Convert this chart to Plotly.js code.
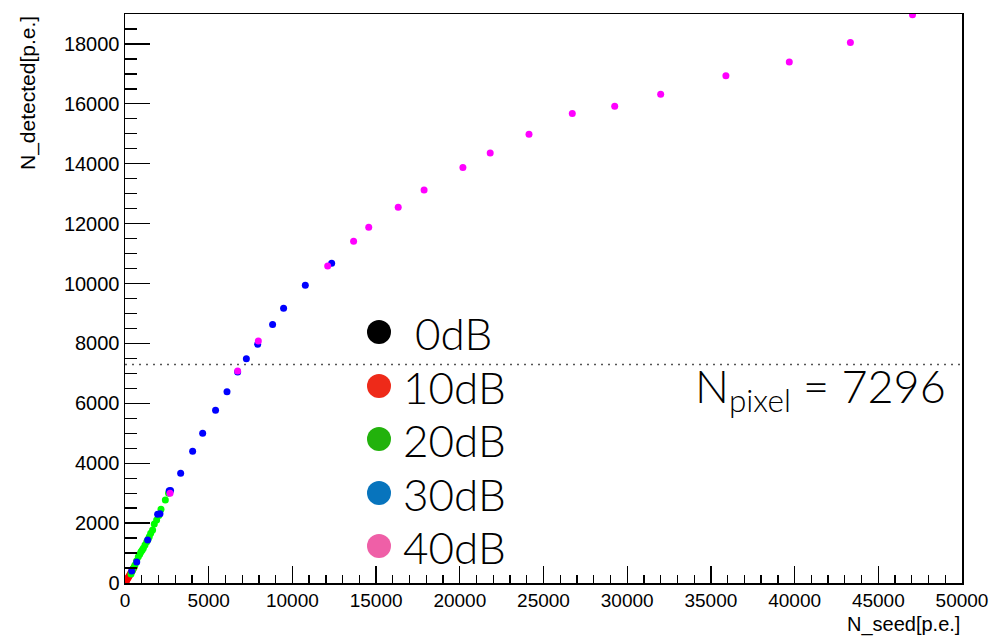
<!DOCTYPE html>
<html>
<head>
<meta charset="utf-8">
<script src="https://cdn.plot.ly/plotly-3.0.1.min.js"></script>
<style>html,body{margin:0;padding:0;background:#fff;}#chart{width:999px;height:636px;}</style>
</head>
<body>
<div id="chart"></div>
<script>
// 0dB (hidden under the 10dB points near the origin)
const x0dB = [5, 12, 20, 30, 42];
const y0dB = [5, 12, 20, 29, 41];
// 10dB
const x10dB = [30, 60, 100, 140, 180, 230, 280, 330, 380, 440, 500, 560];
const y10dB = [30, 58, 96, 135, 172, 220, 268, 318, 366, 425, 482, 540];
// 20dB
const x20dB = [358, 430, 500, 597, 697, 795, 880, 956, 1030, 1095, 1195, 1300, 1380, 1450, 1535, 1650, 1750, 1890, 2020, 2150, 2410, 2600];
const y20dB = [300, 400, 491, 601, 745, 878, 960, 1045, 1100, 1159, 1269, 1380, 1460, 1547, 1660, 1770, 1970, 2104, 2250, 2461, 2772, 3000];
// 30dB
const x30dB = [400, 700, 1355, 1950, 2090, 2640, 2720, 3325, 4040, 4640, 5410, 6093, 6730, 7250, 7925, 8817, 9474, 10771, 12346];
const y30dB = [400, 700, 1436, 2294, 2315, 3080, 3090, 3664, 4399, 5000, 5768, 6390, 7048, 7492, 7972, 8630, 9175, 9943, 10678];
// 40dB
const x40dB = [2690, 6730, 7965, 12108, 13656, 14560, 16320, 17867, 20185, 21816, 24134, 26720, 29253, 32000, 35896, 39683, 43333, 47043];
const y40dB = [2996, 7081, 8083, 10588, 11413, 11880, 12548, 13126, 13871, 14362, 14986, 15675, 15922, 16323, 16934, 17401, 18046, 18971];

const legendLabels = ['0dB', '10dB', '20dB', '30dB', '40dB'];
const legendColors = ['#000000', '#ee2a19', '#22b20c', '#0774bd', '#ef5fa7'];
const nPixel = 7296;

const font = 'Liberation Sans, Arial, sans-serif';
const bigFont = 'Lato, Liberation Sans, sans-serif';
function series(x, y, color) {
  return {type: 'scatter', mode: 'markers', x: x, y: y, showlegend: false,
    marker: {color: color, size: 7, line: {width: 0}}, hoverinfo: 'x+y'};
}
const data = [
  series(x0dB, y0dB, '#000000'),
  series(x10dB, y10dB, '#ff0000'),
  series(x20dB, y20dB, '#00ff00'),
  series(x30dB, y30dB, '#0000ff'),
  series(x40dB, y40dB, '#ff00ff')
];

const W = 999, H = 636, L = 125, R = 37, T = 14, B = 53;
const pw = W - L - R, ph = H - T - B;
const px = v => (v - L) / pw;
const py = v => (H - B - v) / ph;

const shapes = [{
  type: 'line', xref: 'paper', x0: 0, x1: 1, yref: 'y', y0: nPixel, y1: nPixel,
  line: {color: '#555', width: 1.5, dash: '2px,5px'}
}];
const annotations = [];
const legendY = [332, 386, 439, 493, 546];
const legendTextX = [413, 401, 401, 401, 401];
legendLabels.forEach((lab, i) => {
  shapes.push({type: 'circle', xref: 'paper', yref: 'paper', xsizemode: 'pixel', ysizemode: 'pixel',
    xanchor: px(379), yanchor: py(legendY[i]), x0: -12, x1: 12, y0: -12, y1: 12,
    fillcolor: legendColors[i], line: {width: 0}});
  annotations.push({xref: 'paper', yref: 'paper', x: px(legendTextX[i]), y: py(legendY[i] + 1),
    xanchor: 'left', yanchor: 'middle', showarrow: false, text: lab,
    font: {family: bigFont, size: 44, color: '#000', weight: 300}});
});
annotations.push({xref: 'paper', yref: 'paper', x: px(948), y: py(389), xanchor: 'right', yanchor: 'middle',
  showarrow: false, text: 'N<sub>pixel</sub> = ' + nPixel,
  font: {family: bigFont, size: 45, color: '#000', weight: 300}});
annotations.push({xref: 'paper', yref: 'paper', x: 1, y: py(624), xanchor: 'right', yanchor: 'middle',
  showarrow: false, text: 'N_seed[p.e.]', font: {family: font, size: 20, color: '#000'}});
annotations.push({xref: 'paper', yref: 'paper', x: px(28), y: 1, xanchor: 'center', yanchor: 'top',
  showarrow: false, textangle: -90, text: 'N_detected[p.e.]', font: {family: font, size: 21, color: '#000'}});

const layout = {
  width: W, height: H,
  margin: {l: L, r: R, t: T, b: B, pad: 0},
  paper_bgcolor: '#fff', plot_bgcolor: '#fff',
  showlegend: false,
  font: {family: font, color: '#000'},
  xaxis: {range: [0, 50000], dtick: 5000, tick0: 0, ticks: 'inside', ticklen: 17, tickwidth: 1.3, tickcolor: '#000',
    tickformat: 'd', exponentformat: 'none',
    showline: true, linecolor: '#000', linewidth: 1.5, mirror: true, showgrid: false, zeroline: false,
    tickfont: {family: font, size: 19, color: '#000'},
    minor: {dtick: 1000, ticks: 'inside', ticklen: 8, tickwidth: 1.3, tickcolor: '#000', showgrid: false}},
  yaxis: {range: [0, 19000], dtick: 2000, tick0: 0, ticks: 'inside', ticklen: 25, tickwidth: 1.3, tickcolor: '#000',
    tickformat: 'd', exponentformat: 'none',
    showline: true, linecolor: '#000', linewidth: 1.5, mirror: true, showgrid: false, zeroline: false,
    tickfont: {family: font, size: 20, color: '#000'},
    minor: {dtick: 500, ticks: 'inside', ticklen: 12, tickwidth: 1.3, tickcolor: '#000', showgrid: false}},
  shapes: shapes,
  annotations: annotations
};
Plotly.newPlot('chart', data, layout, {staticPlot: true});
</script>
</body>
</html>
